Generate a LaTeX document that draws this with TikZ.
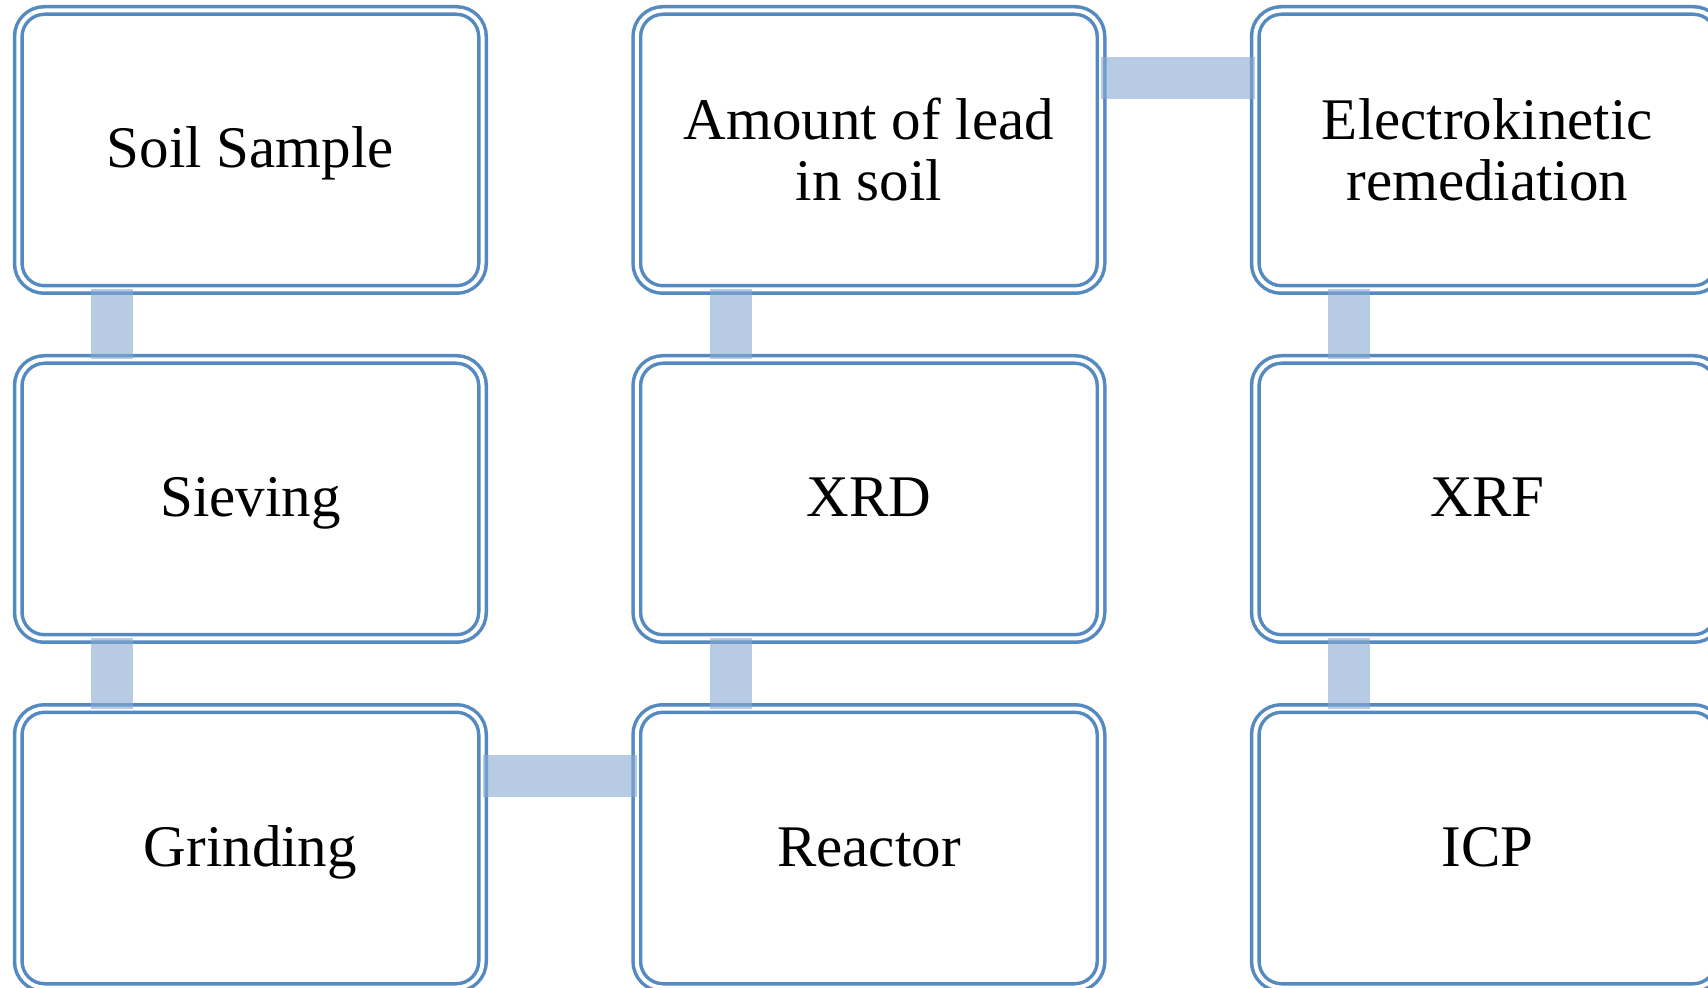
\documentclass[tikz,border=0pt]{standalone}
\usepackage{fontspec}
\setmainfont{Liberation Serif}
\definecolor{boxline}{RGB}{84,138,191}
\definecolor{connfill}{RGB}{135,170,210}
\begin{document}
\begin{tikzpicture}[x=0.5pt,y=-0.5pt,
  stepbox/.style={draw=boxline, fill=white, line width=1.75pt, double=white, double distance=2pt,
    rounded corners=13pt, minimum width=232.1pt, minimum height=139.5pt, outer sep=0pt,
    inner sep=0pt, align=center, font=\fontsize{29.5}{30.5}\selectfont},
  oneline/.style={text height=19.5pt, text depth=1.5pt},
  conn/.style={fill=connfill, fill opacity=0.6}]
\useasboundingbox (0,0) rectangle (1708,988);
\clip (0,0) rectangle (1708,988);
\node[stepbox, oneline] (soil) at (250.4,150) {Soil Sample};
\node[stepbox, oneline] (sieve) at (250.4,499) {Sieving};
\node[stepbox, oneline] (grind) at (250.4,848) {Grinding};
\node[stepbox, oneline] (reactor) at (868.9,848) {Reactor};
\node[stepbox, oneline] (xrd) at (868.9,499) {XRD};
\node[stepbox] (lead) at (868.9,150) {Amount of lead\\in soil};
\node[stepbox] (ekr) at (1487.4,150) {Electrokinetic\\remediation};
\node[stepbox, oneline] (xrf) at (1487.4,499) {XRF};
\node[stepbox, oneline] (icp) at (1487.4,848) {ICP};
\fill[conn] ([xshift=36.4pt]soil.south west) rectangle ([xshift=57.4pt]sieve.north west);
\fill[conn] ([xshift=36.4pt]sieve.south west) rectangle ([xshift=57.4pt]grind.north west);
\fill[conn] ([yshift=-23.25pt]grind.north east) rectangle ([yshift=-44.25pt]reactor.north west);
\fill[conn] ([xshift=36.4pt]reactor.north west) rectangle ([xshift=57.4pt]xrd.south west);
\fill[conn] ([xshift=36.4pt]xrd.north west) rectangle ([xshift=57.4pt]lead.south west);
\fill[conn] ([yshift=-23.5pt]lead.north east) rectangle ([yshift=-44.25pt]ekr.north west);
\fill[conn] ([xshift=36.4pt]ekr.south west) rectangle ([xshift=57.4pt]xrf.north west);
\fill[conn] ([xshift=36.4pt]xrf.south west) rectangle ([xshift=57.4pt]icp.north west);
\end{tikzpicture}
\end{document}
